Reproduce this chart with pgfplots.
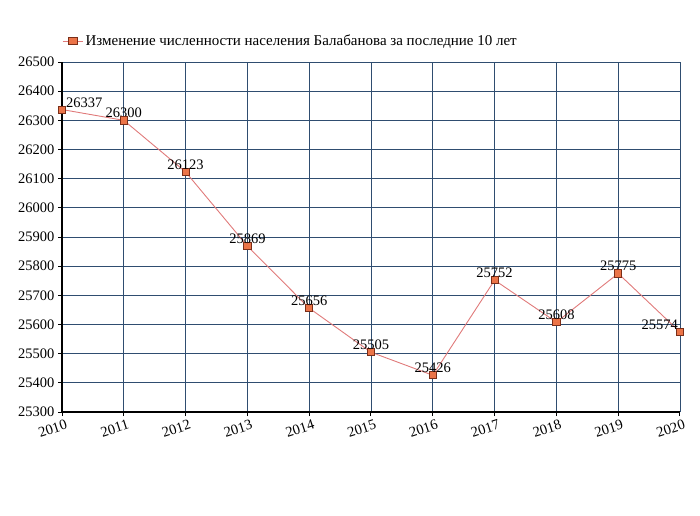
\documentclass[border=0pt]{standalone}
\usepackage{fontspec}
\setmainfont{Liberation Serif}
\usepackage{pgfplots}
\pgfplotsset{compat=1.18}
\definecolor{GridBlue}{HTML}{2F4D70}
\definecolor{LineRed}{HTML}{E07A7A}
\definecolor{MarkFill}{HTML}{EB7448}
\definecolor{MarkEdge}{HTML}{7A2E18}

\begin{document}
\begin{tikzpicture}[x=1pt,y=1pt]
\path[use as bounding box] (0,0) rectangle (700,515);
\begin{axis}[at={(62pt,103pt)},anchor=south west,scale only axis,
  width=618pt,height=350pt,
  xmin=2010,xmax=2020,ymin=25300,ymax=26500,
  xtick={2010,...,2020},ytick={25300,25400,...,26500},
  scaled y ticks=false,scaled x ticks=false,
  x tick label style={/pgf/number format/1000 sep={},rotate=18,anchor=north east,
    xshift=3pt,yshift=-3pt,inner sep=1pt},
  y tick label style={/pgf/number format/1000 sep={}},
  /pgf/number format/assume math mode=true,
  tick label style={font=\fontsize{14.5}{16}\selectfont},
  grid=major,grid style={GridBlue,line width=0.9pt},
  axis x line*=bottom,axis y line*=left,
  axis line style={black,line width=2.4pt,-},
  tick style={black,line width=1pt},major tick length=4pt,tick align=outside,
  legend style={at={(0,1.03)},anchor=south west,draw=none,fill=none,
    font=\fontsize{15}{17}\selectfont,inner xsep=0pt},
  legend image post style={xscale=1.2},
  legend cell align=left,
  nodes near coords,
  every node near coord/.append style={font=\fontsize{14.5}{16}\selectfont,
    text=black,
    /pgf/number format/1000 sep={},/pgf/number format/assume math mode=true,
    inner sep=2pt},
  clip=false]
\addplot[LineRed,line width=0.9pt,mark=square*,mark size=3.6pt,
  mark options={fill=MarkFill,draw=MarkEdge,line width=0.8pt},
  nodes near coords align={above}]
  coordinates {(2011,26300) (2012,26123) (2013,25869) (2014,25656)
  (2015,25505) (2016,25426) (2017,25752) (2018,25608) (2019,25775)};
\addlegendentry{Изменение численности населения Балабанова за последние 10 лет}
\addplot[LineRed,line width=0.9pt,mark=square*,mark size=3.6pt,
  mark options={fill=MarkFill,draw=MarkEdge,line width=0.8pt},
  nodes near coords={},forget plot]
  coordinates {(2010,26337) (2011,26300)};
\addplot[LineRed,line width=0.9pt,mark=square*,mark size=3.6pt,
  mark options={fill=MarkFill,draw=MarkEdge,line width=0.8pt},
  nodes near coords={},forget plot]
  coordinates {(2019,25775) (2020,25574)};
\addplot[draw=none,forget plot,
  every node near coord/.append style={anchor=south west,xshift=2pt,yshift=0pt}]
  coordinates {(2010,26337)};
\addplot[draw=none,forget plot,
  every node near coord/.append style={anchor=south east,xshift=0pt,yshift=0pt}]
  coordinates {(2020,25574)};
\end{axis}
\end{tikzpicture}
\end{document}
